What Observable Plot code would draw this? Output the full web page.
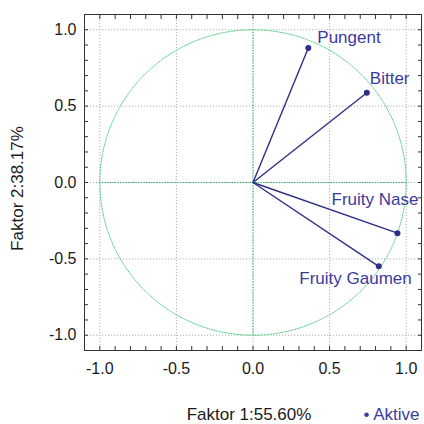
<!DOCTYPE html>
<html>
<head>
<meta charset="utf-8">
<script src="https://cdn.jsdelivr.net/npm/d3@7"></script>
<script src="https://cdn.jsdelivr.net/npm/@observablehq/plot@0.6"></script>
<style>
  html, body { margin: 0; padding: 0; background: #fff; }
</style>
</head>
<body>
<div id="chart"></div>
<script>
// ---- data ----
const variables = ["Pungent", "Bitter", "Fruity Nase", "Fruity Gaumen"];
const factor1 = [0.361, 0.743, 0.943, 0.821];
const factor2 = [0.881, 0.588, -0.332, -0.549];
const majorTicks = [-1.0, -0.5, 0.0, 0.5, 1.0];
const minorTicks = [-1.0, -0.9, -0.8, -0.7, -0.6, -0.5, -0.4, -0.3, -0.2, -0.1, 0.0,
                    0.1, 0.2, 0.3, 0.4, 0.5, 0.6, 0.7, 0.8, 0.9, 1.0];
const xTitle = "Faktor 1:55.60%";
const yTitle = "Faktor 2:38.17%";
const legendLabel = "\u2022 Aktive";
const axisSpan = [-1, 1];

// ---- styles (label placement) ----
const labelStyle = {
  "Pungent":       {dx: 9,  dy: -10, anchor: "start"},
  "Bitter":        {dx: 3,  dy: -14, anchor: "start"},
  "Fruity Nase":   {dx: 21, dy: -34, anchor: "end"},
  "Fruity Gaumen": {dx: 33, dy: 12,  anchor: "end"}
};

const rows = variables.map((name, i) => ({name, x: factor1[i], y: factor2[i]}));

// unit correlation circle (geometric reference, not data)
const circle = d3.range(0, 361).map(a => ({
  x: Math.cos(a * Math.PI / 180),
  y: Math.sin(a * Math.PI / 180)
}));

const navy = "#2e2e86";
const labelColor = "#3b3b9e";
const green = "#1fae5c";
const lightGreen = "#55cc88";
const gridGray = "#b0b0b0";
const font = "'Liberation Sans', Arial, Helvetica, sans-serif";

const labelMarks = rows.map(r => Plot.text([r], {
  x: "x", y: "y", text: "name",
  dx: labelStyle[r.name].dx, dy: labelStyle[r.name].dy,
  textAnchor: labelStyle[r.name].anchor,
  fill: labelColor, fontSize: 17
}));

const chart = Plot.plot({
  width: 424,
  height: 424,
  marginLeft: 84,
  marginRight: 3,
  marginTop: 14,
  marginBottom: 74,
  style: {fontFamily: font, background: "#fff", overflow: "visible"},
  x: {domain: [-1.1, 1.1]},
  y: {domain: [-1.1, 1.1]},
  marks: [
    // grid
    Plot.gridX(majorTicks, {stroke: gridGray, strokeOpacity: 1, strokeDasharray: "1.2,1.8"}),
    Plot.gridY(majorTicks, {stroke: gridGray, strokeOpacity: 1, strokeDasharray: "1.2,1.8"}),
    // zero axes in green
    Plot.ruleX([0], {y1: axisSpan[0], y2: axisSpan[1], stroke: green, strokeDasharray: "1.2,1.4"}),
    Plot.ruleY([0], {x1: axisSpan[0], x2: axisSpan[1], stroke: green, strokeDasharray: "1.2,1.4"}),
    // circle
    Plot.line(circle, {x: "x", y: "y", stroke: lightGreen, strokeWidth: 1, strokeDasharray: "1,1.3"}),
    // vectors
    Plot.link(rows, {x1: 0, y1: 0, x2: "x", y2: "y", stroke: navy, strokeWidth: 1.4}),
    Plot.dot(rows, {x: "x", y: "y", r: 3, fill: navy}),
    ...labelMarks,
    // inward minor ticks on all four sides
    Plot.axisX(minorTicks, {anchor: "bottom", tickSize: -4, tickFormat: () => "", label: null, stroke: "#333"}),
    Plot.axisX(minorTicks, {anchor: "top", tickSize: -4, tickFormat: () => "", label: null, stroke: "#333"}),
    Plot.axisY(minorTicks, {anchor: "left", tickSize: -4, tickFormat: () => "", label: null, stroke: "#333"}),
    Plot.axisY(minorTicks, {anchor: "right", tickSize: -4, tickFormat: () => "", label: null, stroke: "#333"}),
    // tick labels
    Plot.axisX(majorTicks, {anchor: "bottom", tickSize: 0, tickPadding: 12, tickFormat: d => d.toFixed(1), label: null, fontSize: 16, fill: "#1a1a1a"}),
    Plot.axisY(majorTicks, {anchor: "left", tickSize: 0, tickPadding: 8, tickFormat: d => d.toFixed(1), label: null, fontSize: 16, fill: "#1a1a1a"}),
    // frame
    Plot.frame({stroke: "#333", strokeWidth: 1}),
    // axis titles and legend
    Plot.text([xTitle], {frameAnchor: "bottom", dx: -4, dy: 69, fontSize: 17, fill: "#1a1a1a"}),
    Plot.text([yTitle], {frameAnchor: "left", dx: -67, dy: 6, rotate: -90, textAnchor: "middle", lineAnchor: "middle", fontSize: 17, fill: "#1a1a1a"}),
    Plot.text([legendLabel], {frameAnchor: "bottom-right", dx: -2, dy: 69, textAnchor: "end", fontSize: 17, fill: labelColor})
  ]
});

document.getElementById("chart").appendChild(chart);
</script>
</body>
</html>
